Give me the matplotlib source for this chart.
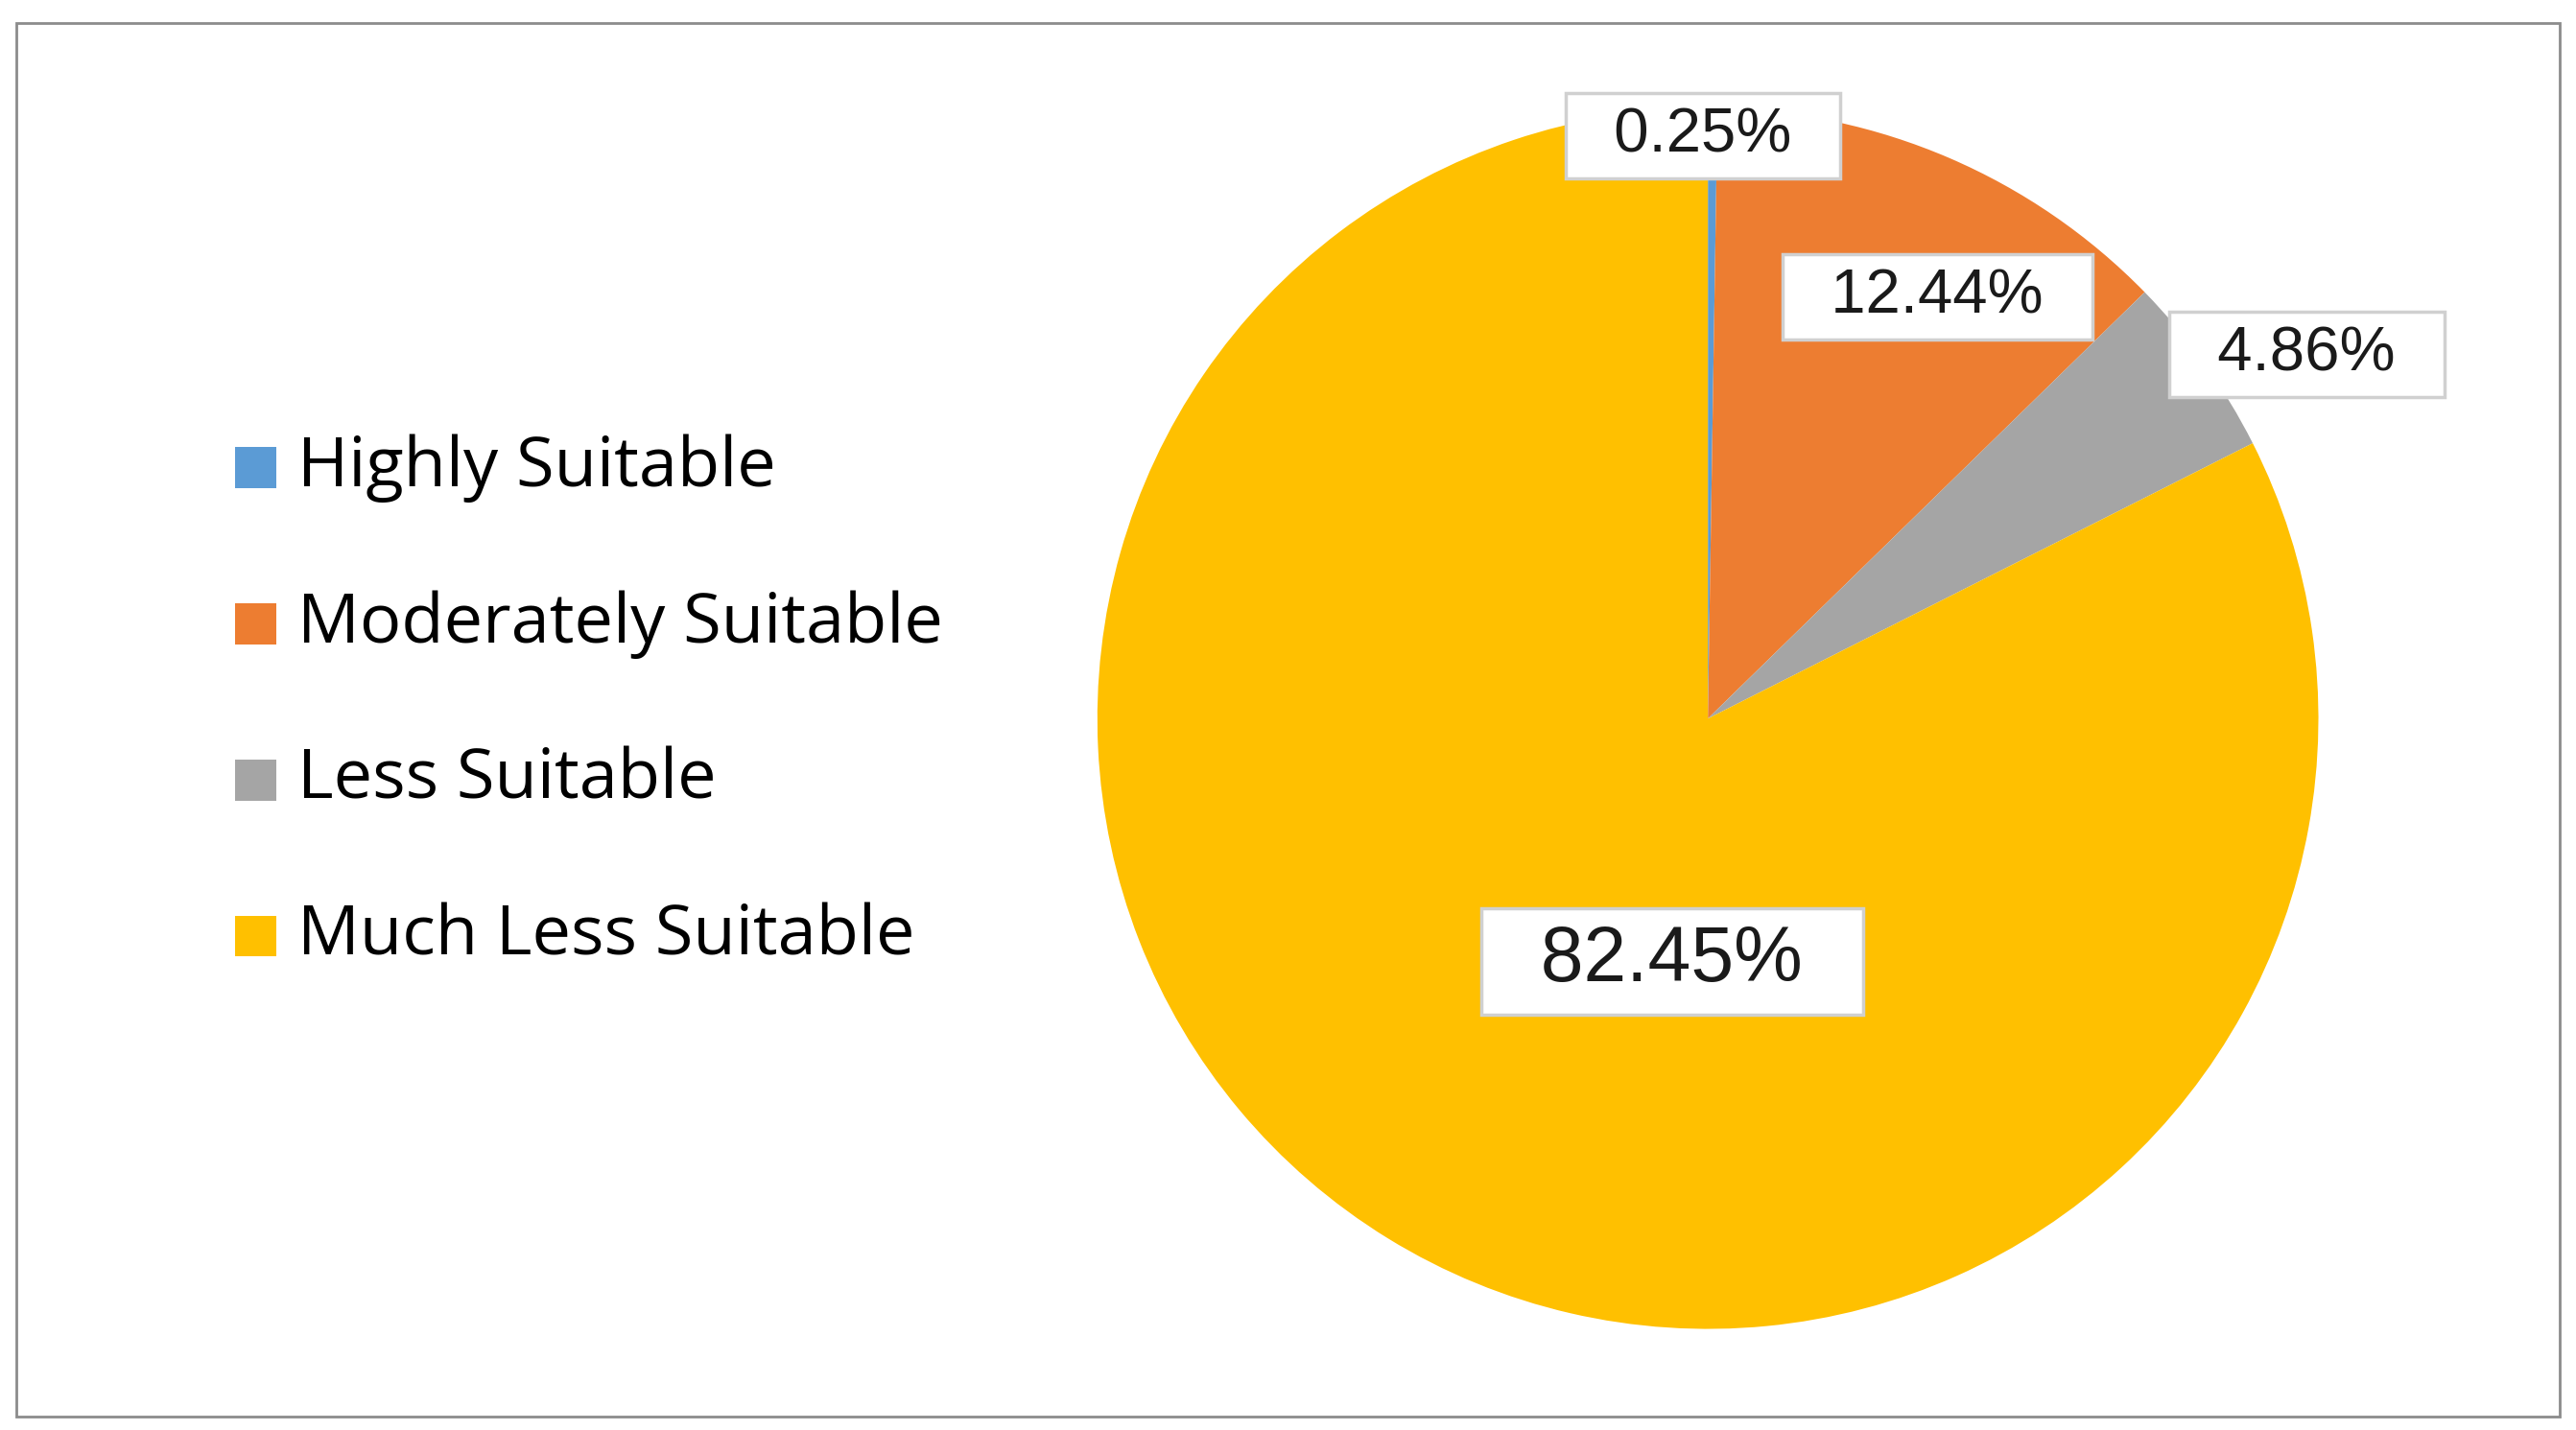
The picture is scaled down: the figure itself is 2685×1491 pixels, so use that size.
import matplotlib.pyplot as plt
from matplotlib.patches import Rectangle

categories = ["Highly Suitable", "Moderately Suitable", "Less Suitable", "Much Less Suitable"]
values = [0.25, 12.44, 4.86, 82.45]
labels = ["0.25%", "12.44%", "4.86%", "82.45%"]
colors = ["#5B9BD5", "#ED7D31", "#A5A5A5", "#FFC000"]

W, H = 1568, 870  # reference layout units
fig = plt.figure(figsize=(26.85, 14.91), dpi=100)

# outer frame
fig.patches.append(Rectangle((10 / W, 1 - 862 / H), 1548 / W, 848 / H, transform=fig.transFigure,
                             fill=False, edgecolor="#8c8c8c", linewidth=2))

ax = fig.add_axes([0.426, 0.070, 0.474, 0.855])
ax.pie(values, colors=colors, startangle=90, counterclock=False,
       wedgeprops=dict(linewidth=0))
ax.set_xlim(-1, 1)
ax.set_ylim(-1, 1)
ax.set_aspect("equal")

# data label positions (pie units) and sizes
label_pos = [(-0.008, 0.955), (0.376, 0.691), (0.981, 0.597), (-0.059, -0.398)]
label_size = [47, 47, 47, 58]
for lab, (x, y), s in zip(labels, label_pos, label_size):
    ax.text(x, y, "  " + lab + "  ", ha="center", va="center", fontsize=s, family="Liberation Sans",
            color="#1a1a1a",
            bbox=dict(boxstyle="square,pad=0.22", facecolor="white", edgecolor="#d0d0d0", linewidth=2.5))

# legend drawn manually
leg_y = [285, 380, 475, 570]
for cat, c, y in zip(categories, colors, leg_y):
    fig.patches.append(Rectangle((143 / W, 1 - (y + 12) / H), 25 / W, 25 / H,
                                 transform=fig.transFigure, facecolor=c, edgecolor="none"))
    fig.text(181 / W, 1 - y / H, cat, ha="left", va="center", fontsize=52,
             family="Open Sans", color="black")

fig.savefig("out.png", dpi=100)
